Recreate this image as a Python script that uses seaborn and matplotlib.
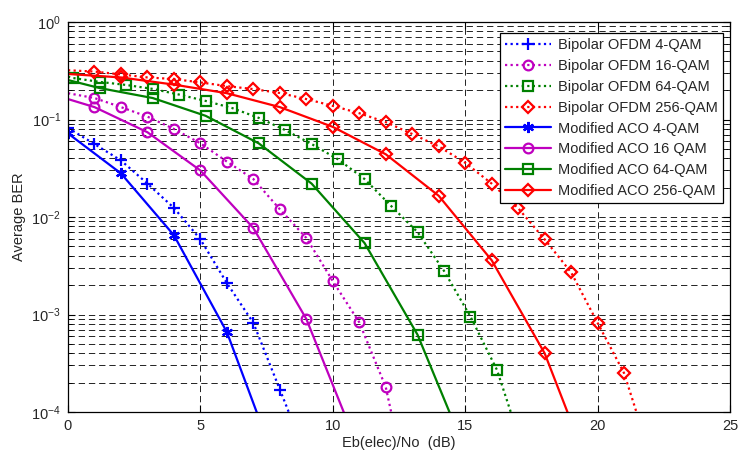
import numpy as np
import matplotlib
matplotlib.use("Agg")
import matplotlib.pyplot as plt
import seaborn as sns

# ---------------- data ----------------
x_bip4 = [0, 1, 2, 3, 4, 5, 6, 7, 8, 9]
y_bip4 = [0.082, 0.056, 0.038, 0.022, 0.0124, 0.0059, 0.0021, 0.00082, 0.00017, 3.5e-5]

x_bip16 = [0, 1, 2, 3, 4, 5, 6, 7, 8, 9, 10, 11, 12, 13]
y_bip16 = [0.186, 0.166, 0.134, 0.107, 0.080, 0.057, 0.037, 0.0245, 0.012, 0.0061,
           0.0022, 0.00083, 0.00018, 1e-5]

x_bip64 = [0, 0.2, 1.2, 2.2, 3.2, 4.2, 5.2, 6.2, 7.2, 8.2, 9.2, 10.2, 11.2, 12.2,
           13.2, 14.2, 15.2, 16.2, 17.2]
y_bip64 = [0.275, 0.266, 0.243, 0.226, 0.206, 0.18, 0.155, 0.131, 0.104, 0.078,
           0.056, 0.039, 0.0245, 0.013, 0.0070, 0.0028, 0.00095, 0.00027, 4e-5]

x_bip256 = list(range(0, 23))
y_bip256 = [0.32, 0.31, 0.29, 0.27, 0.26, 0.24, 0.22, 0.205, 0.187, 0.162, 0.138,
            0.116, 0.094, 0.071, 0.053, 0.036, 0.022, 0.0123, 0.0059, 0.0027,
            0.00082, 0.00025, 3.5e-5]

x_mod4 = [0, 2, 4, 6, 8]
y_mod4 = [0.072, 0.028, 0.0065, 0.00066, 2.3e-5]

x_mod16 = [0, 1, 3, 5, 7, 9, 11]
y_mod16 = [0.162, 0.134, 0.074, 0.030, 0.0077, 0.00090, 4e-5]

x_mod64 = [0, 1.2, 3.2, 5.2, 7.2, 9.2, 11.2, 13.2, 15.2]
y_mod64 = [0.254, 0.21, 0.166, 0.109, 0.057, 0.022, 0.0054, 0.00062, 3e-5]

x_mod256 = [0, 2, 4, 6, 8, 10, 12, 14, 16, 18, 20]
y_mod256 = [0.293, 0.27, 0.228, 0.186, 0.134, 0.084, 0.044, 0.0165, 0.0036,
            0.00040, 1.6e-5]

labels = ["Bipolar OFDM 4-QAM", "Bipolar OFDM 16-QAM", "Bipolar OFDM 64-QAM",
          "Bipolar OFDM 256-QAM", "Modified ACO 4-QAM", "Modified ACO 16 QAM",
          "Modified ACO 64-QAM", "Modified ACO 256-QAM"]

x_ticks = [0, 5, 10, 15, 20, 25]

# ---------------- style ----------------
sns.set_theme(style="ticks")
plt.rcParams["font.family"] = ["Liberation Sans", "DejaVu Sans"]
plt.rcParams["mathtext.fontset"] = "custom"
plt.rcParams["mathtext.rm"] = "Liberation Sans"
plt.rcParams["mathtext.it"] = "Liberation Sans:italic"

fig = plt.figure(figsize=(7.42, 4.5), dpi=100)
ax = fig.add_axes([68 / 742, 1 - 412 / 450, (730 - 68) / 742, (412 - 22) / 450])

BLUE = (0, 0, 1)
MAG = (0.75, 0, 0.75)
GREEN = (0, 0.5, 0)
RED = (1, 0, 0)

dotted = (0, (1, 1.5))
asterisk = (6, 2, 0)

series = [
    (x_bip4, y_bip4, BLUE, dotted, "+", 8, None),
    (x_bip16, y_bip16, MAG, dotted, "o", 7, slice(1, None)),
    (x_bip64, y_bip64, GREEN, dotted, "s", 6.5, slice(1, None)),
    (x_bip256, y_bip256, RED, dotted, "D", 6.5, slice(1, None)),
    (x_mod4, y_mod4, BLUE, "-", asterisk, 8, None),
    (x_mod16, y_mod16, MAG, "-", "o", 7, slice(1, None)),
    (x_mod64, y_mod64, GREEN, "-", "s", 6.5, slice(1, None)),
    (x_mod256, y_mod256, RED, "-", "D", 6.5, slice(1, None)),
]

for (xs, ys, col, ls, mk, ms, me), lab in zip(series, labels):
    sns.lineplot(x=xs, y=ys, ax=ax, color=col, linestyle=ls, linewidth=1.6,
                 marker=mk, markersize=ms, markerfacecolor="none",
                 markeredgecolor=col, markeredgewidth=1.6, markevery=me,
                 label=lab, sort=False, estimator=None)

ax.set_yscale("log")
ax.set_xlim(0, 25)
ax.set_ylim(1e-4, 1)
ax.set_xticks(x_ticks)
ax.set_xticklabels([str(t) for t in x_ticks])

ax.grid(True, which="major", axis="both", color="#222222", linestyle=(0, (6.5, 4)), linewidth=0.7)
ax.grid(True, which="minor", axis="y", color="#222222", linestyle=(0, (6.5, 4)), linewidth=0.7)
ax.set_axisbelow(True)

ax.tick_params(which="both", direction="in", top=True, right=True, labelsize=10.5,
               color="black", pad=5)
ax.tick_params(which="major", length=5, width=0.8)
ax.tick_params(which="minor", length=3, width=0.6)
for s in ax.spines.values():
    s.set_color("black")
    s.set_linewidth(0.9)

ax.set_xlabel("Eb(elec)/No  (dB)", fontsize=10.5, labelpad=2)
ax.set_ylabel("Average BER", fontsize=10.5, labelpad=4)

leg = ax.legend(loc="upper right", bbox_to_anchor=(723 / 742, 1 - 33 / 450),
                bbox_transform=fig.transFigure, borderaxespad=0, fontsize=10.5,
                handlelength=3.2, labelspacing=0.47, borderpad=0.35,
                handletextpad=0.45, fancybox=False, framealpha=1,
                edgecolor="black")
leg.get_frame().set_linewidth(0.9)

fig.savefig("out.png", dpi=100, facecolor="white")
